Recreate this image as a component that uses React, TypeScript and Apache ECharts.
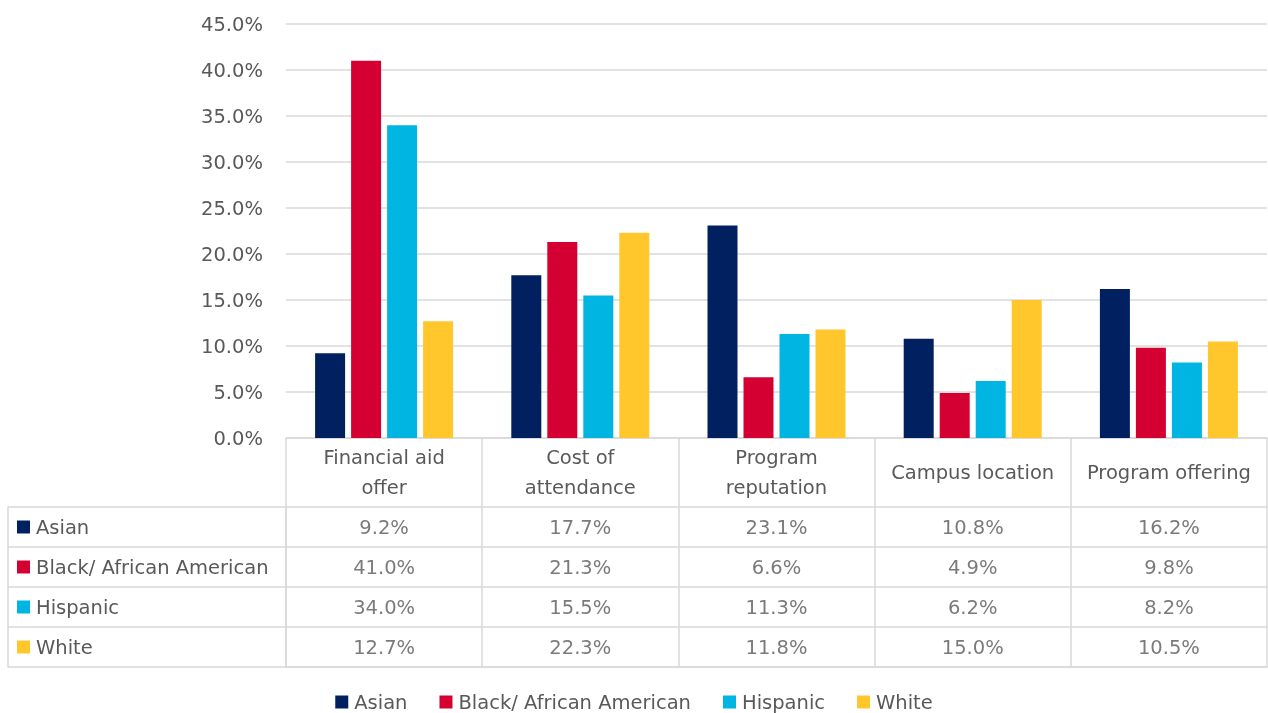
import React, { useEffect, useRef } from "react";
import * as echarts from "echarts";

const categories = [
  "Financial aid offer",
  "Cost of attendance",
  "Program reputation",
  "Campus location",
  "Program offering",
];
const headerLabels = [
  "Financial aid\noffer",
  "Cost of\nattendance",
  "Program\nreputation",
  "Campus location",
  "Program offering",
];
const seriesNames = ["Asian", "Black/ African American", "Hispanic", "White"];
const asian = [9.2, 17.7, 23.1, 10.8, 16.2];
const black = [41.0, 21.3, 6.6, 4.9, 9.8];
const hispanic = [34.0, 15.5, 11.3, 6.2, 8.2];
const white = [12.7, 22.3, 11.8, 15.0, 10.5];
const yMin = 0;
const yMax = 45;
const yInterval = 5;

const colors = ["#002060", "#d50032", "#00b5e2", "#ffc72c"];
const TEXT = "#595959";
const LINE = "#d9d9d9";
const FONT = "DejaVu Sans";
const FS = 19.5;

export default function App() {
  const ref = useRef<HTMLDivElement>(null);
  useEffect(() => {
    if (!ref.current) return;
    const chart = echarts.init(ref.current, null, { renderer: "svg" });
    const allValues = [asian, black, hispanic, white];
    const tableData: any[] = [];
    allValues.forEach((vals, r) => {
      vals.forEach((v, c) => {
        tableData.push([c, r, v]);
      });
    });
    const rich: any = {
      t: { fontSize: FS, color: TEXT, fontFamily: FONT, padding: [0, 0, 0, 6] },
    };
    colors.forEach((c, i) => {
      rich["s" + i] = { width: 13, height: 13, backgroundColor: c };
    });

    chart.setOption({
      animation: false,
      textStyle: { fontFamily: FONT, color: TEXT },
      color: colors,
      legend: {
        data: seriesNames,
        left: "center",
        top: 687,
        icon: "rect",
        itemWidth: 13,
        itemHeight: 13,
        itemGap: 32,
        textStyle: {
          fontSize: FS,
          color: TEXT,
          fontFamily: FONT,
          padding: [0, 0, 0, 1],
        },
      },
      grid: [
        { left: 286, right: 1, top: 24, bottom: 275 },
        { left: 286, right: 1, top: 507, bottom: 46 },
      ],
      xAxis: [
        {
          type: "category",
          gridIndex: 0,
          data: categories,
          axisLine: { show: true, lineStyle: { color: LINE, width: 1.5 } },
          axisTick: {
            show: true,
            length: 69,
            interval: 0,
            alignWithLabel: false,
            lineStyle: { color: LINE, width: 1.5 },
          },
          axisLabel: {
            interval: 0,
            margin: 34,
            verticalAlign: "middle",
            lineHeight: 30,
            fontSize: FS,
            color: TEXT,
            fontFamily: FONT,
            formatter: (_v: string, i: number) => headerLabels[i],
          },
        },
        {
          type: "category",
          gridIndex: 1,
          data: categories,
          axisLine: { show: true, lineStyle: { color: LINE, width: 1.5 } },
          axisTick: { show: false },
          axisLabel: { show: false },
          splitLine: {
            show: true,
            interval: 0,
            lineStyle: { color: LINE, width: 1.5 },
          },
        },
      ],
      yAxis: [
        {
          type: "value",
          gridIndex: 0,
          min: yMin,
          max: yMax,
          interval: yInterval,
          axisLine: { show: false },
          axisTick: { show: false },
          axisLabel: {
            margin: 23,
            fontSize: FS,
            color: TEXT,
            fontFamily: FONT,
            formatter: (v: number) => v.toFixed(1) + "%",
          },
          splitLine: { lineStyle: { color: LINE, width: 1.5 } },
        },
        {
          type: "category",
          gridIndex: 1,
          inverse: true,
          data: seriesNames,
          axisLine: { show: true, lineStyle: { color: LINE, width: 1.5 } },
          axisTick: {
            show: true,
            length: 278,
            interval: 0,
            alignWithLabel: false,
            lineStyle: { color: LINE, width: 1.5 },
          },
          axisLabel: {
            interval: 0,
            margin: 269,
            align: "left",
            formatter: (v: string, i: number) => `{s${i}|}{t|${v}}`,
            rich,
          },
          splitLine: {
            show: true,
            interval: 0,
            lineStyle: { color: LINE, width: 1.5 },
          },
        },
        {
          type: "category",
          gridIndex: 1,
          inverse: true,
          data: seriesNames,
          position: "left",
          offset: 278,
          axisLine: { show: true, lineStyle: { color: LINE, width: 1.5 } },
          axisTick: { show: false },
          axisLabel: { show: false },
          splitLine: { show: false },
        },
      ],
      series: [
        ...allValues.map((vals, i) => ({
          name: seriesNames[i],
          type: "bar",
          xAxisIndex: 0,
          yAxisIndex: 0,
          data: vals,
          barWidth: 30,
          barGap: "20%",
          itemStyle: { color: colors[i] },
        })),
        {
          name: "table",
          type: "scatter",
          xAxisIndex: 1,
          yAxisIndex: 1,
          data: tableData,
          symbolSize: 1,
          itemStyle: { color: "rgba(0,0,0,0)" },
          label: {
            show: true,
            position: "inside",
            fontSize: FS,
            color: TEXT,
            fontFamily: FONT,
            formatter: (p: any) => p.value[2].toFixed(1) + "%",
          },
        },
      ],
    });
    return () => chart.dispose();
  }, []);
  return (
    <div
      ref={ref}
      style={{ position: "fixed", left: 0, top: 0, width: 1268, height: 713 }}
    />
  );
}
